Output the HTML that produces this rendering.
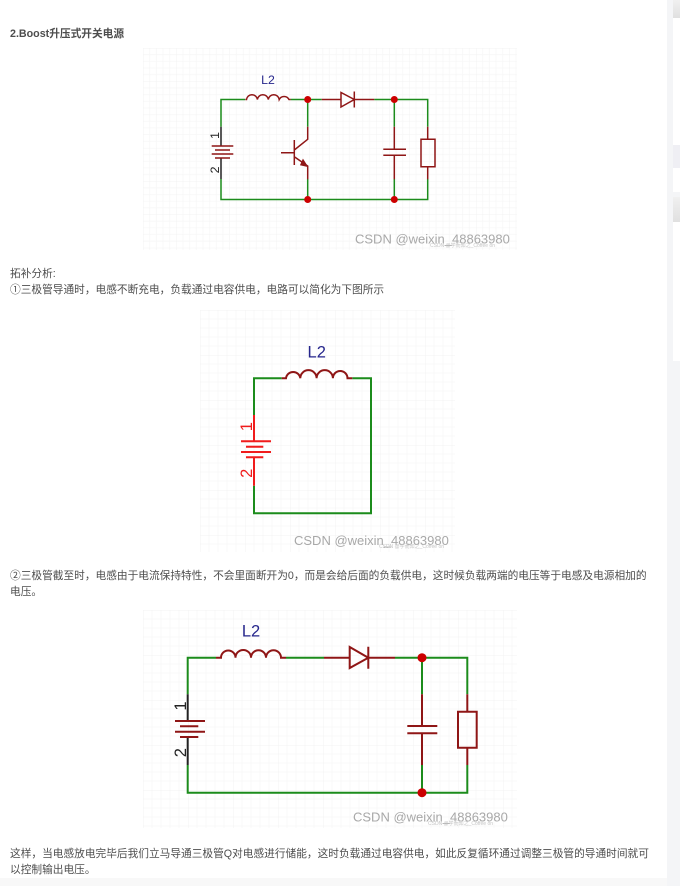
<!DOCTYPE html>
<html><head><meta charset="utf-8">
<style>
html,body{margin:0;padding:0;background:#fff;width:680px;height:886px;overflow:hidden}
svg{display:block}
.t{font-family:"Liberation Sans","Noto Sans CJK SC",sans-serif;font-size:10.7px;fill:#4d4d4d}
.wm{font-family:"Liberation Sans",sans-serif;font-size:13px;fill:#a8a8a8}
.sm{font-family:"Liberation Sans","Noto Sans CJK SC",sans-serif;font-size:5px;fill:#c4c4c4}
.lb{font-family:"Liberation Sans",sans-serif}
</style></head>
<body>
<svg width="680" height="886" viewBox="0 0 680 886" xmlns="http://www.w3.org/2000/svg">
<defs>
<pattern id="g1" x="143" y="48" width="33.3" height="33.3" patternUnits="userSpaceOnUse">
<path d="M0 0V33.3M6.67 0V33.3M13.33 0V33.3M20 0V33.3M26.67 0V33.3M0 0H33.3M0 6.67H33.3M0 13.33H33.3M0 20H33.3M0 26.67H33.3" stroke="#f7f7f7" stroke-width=".8" fill="none"/>
<path d="M0 0V33.3M0 0H33.3" stroke="#f1f1f1" stroke-width=".8" fill="none"/>
</pattern>
<pattern id="g2" x="200" y="310" width="45" height="45" patternUnits="userSpaceOnUse">
<path d="M0 0V45M9 0V45M18 0V45M27 0V45M36 0V45M0 0H45M0 9H45M0 18H45M0 27H45M0 36H45" stroke="#f7f7f7" stroke-width=".8" fill="none"/>
<path d="M0 0V45M0 0H45" stroke="#f1f1f1" stroke-width=".8" fill="none"/>
</pattern>
<pattern id="g3" x="143" y="610" width="45" height="45" patternUnits="userSpaceOnUse">
<path d="M0 0V45M9 0V45M18 0V45M27 0V45M36 0V45M0 0H45M0 9H45M0 18H45M0 27H45M0 36H45" stroke="#f7f7f7" stroke-width=".8" fill="none"/>
<path d="M0 0V45M0 0H45" stroke="#f1f1f1" stroke-width=".8" fill="none"/>
</pattern>
<filter id="b" x="-2%" y="-2%" width="104%" height="104%"><feGaussianBlur stdDeviation="0.35"/></filter>
<filter id="tb" x="-2%" y="-20%" width="104%" height="140%"><feGaussianBlur stdDeviation="0.25"/></filter>
<linearGradient id="hd" x1="0" y1="0" x2="0" y2="1"><stop offset="0" stop-color="#f0f0f0"/><stop offset="1" stop-color="#e0e0e0"/></linearGradient>
</defs>

<rect x="667" y="0" width="13" height="886" fill="#f4f5f7"/>
<rect x="673" y="0" width="7" height="361" fill="#fff"/>
<rect x="673" y="0" width="7" height="18" fill="url(#hd)"/>
<rect x="673" y="145" width="7" height="23" fill="#efeff4"/>
<rect x="673" y="192" width="7" height="5" fill="#f4f5f7"/>
<rect x="673" y="197" width="7" height="25" fill="url(#hd)"/>
<rect x="673" y="361" width="7" height="525" fill="#f4f5f7"/>
<rect x="0" y="878" width="667" height="8" fill="#f8f8f8"/>

<g filter="url(#tb)">
<text class="t" x="10" y="37" style="font-weight:bold;font-size:10.7px">2.Boost升压式开关电源</text>
<text class="t" x="10" y="277">拓补分析:</text>
<text class="t" x="10" y="293">①三极管导通时，电感不断充电，负载通过电容供电，电路可以简化为下图所示</text>
<text class="t" x="10" y="579">②三极管截至时，电感由于电流保持特性，不会里面断开为0，而是会给后面的负载供电，这时候负载两端的电压等于电感及电源相加的</text>
<text class="t" x="10" y="595">电压。</text>
<text class="t" x="10" y="857">这样，当电感放电完毕后我们立马导通三极管Q对电感进行储能，这时负载通过电容供电，如此反复循环通过调整三极管的导通时间就可</text>
<text class="t" x="10" y="873">以控制输出电压。</text>
</g>

<!-- Diagram 1 -->
<rect x="143" y="48" width="374" height="202" fill="url(#g1)"/>
<g filter="url(#b)" fill="none" stroke-width="1.5">
<path d="M245 99.5H221V126.7M221 179V199.5H427.7V179M290.7 99.5H321.7M374.3 99.5H427.7V126.7M307.7 99.5V126.7M307.7 179V199.5M394.3 99.5V126.7M394.3 179V199.5" stroke="#1c8c1c"/>
<path d="M245.3 99.5H246.5A5.5 5.5 0 0 1 257.4 99.5A5.5 5.5 0 0 1 268.3 99.5A5.5 5.5 0 0 1 279.2 99.5A5.5 5.5 0 0 1 289 99.5H290.7" stroke="#8f1414"/>
<path d="M321.7 99.5H341M354.3 99.5H374.3M341 92.5V107L354.3 99.5ZM354.3 91.5V107.5" stroke="#8f1414"/>
<path d="M221 126.7V146M221 158V179" stroke="#222"/>
<path d="M211.7 146H233.3M215 150H230M211.7 154H233.3M215 158H230" stroke="#8f1414"/>
<path d="M281 152.7H294.3M294.3 140V165M294.3 150L307.7 139.3V126.7M294.3 156.7L307.7 166V179.3" stroke="#8f1414"/>
<path d="M307.5 166.5L303 159.5L300.5 165Z" fill="#8f1414" stroke="#8f1414" stroke-width=".8"/>
<path d="M394.3 126.7V149.3M383.3 149.3H406M383.3 155.3H406M394.3 155.3V179.3" stroke="#8f1414"/>
<path d="M427.7 126.7V139.3M427.7 166.7V179.3M421 139.3H435V166.7H421Z" stroke="#8f1414"/>
<g fill="#cc0000" stroke="none">
<circle cx="307.7" cy="99.5" r="3.5"/><circle cx="394.3" cy="99.5" r="3.5"/><circle cx="307.7" cy="199.5" r="3.5"/><circle cx="394.3" cy="199.5" r="3.5"/>
</g>
<text class="lb" x="268" y="84" font-size="12.3" fill="#26268c" stroke="none" text-anchor="middle">L2</text>
<text class="lb" transform="translate(219,135.5) rotate(-90)" font-size="12.3" fill="#222" stroke="none" text-anchor="middle">1</text>
<text class="lb" transform="translate(219,170) rotate(-90)" font-size="12.3" fill="#222" stroke="none" text-anchor="middle">2</text>
</g>
<g filter="url(#tb)">
<text class="wm" x="355" y="243.5">CSDN @weixin_48863980</text>
<text class="sm" x="430" y="247">CSDN @学而知之_Coffee on</text>
</g>

<!-- Diagram 2 -->
<rect x="200" y="310" width="255" height="242" fill="url(#g2)"/>
<g filter="url(#b)" fill="none" stroke-width="2">
<path d="M281.7 378.3H254V415M254 485.7V513.3H371V378.3H352.3" stroke="#1c8c1c"/>
<path d="M281.7 378.3H286A7.2 7.2 0 0 1 300.3 378.3A7.2 7.2 0 0 1 316.6 378.3A7.2 7.2 0 0 1 332.9 378.3A7.2 7.2 0 0 1 347.5 378.3H352.3" stroke="#8f1414"/>
<path d="M254 415V441.3M254 457.3V485.7M241 441.3H271M246 446.7H263.3M241 452H271M246 457.3H263.3" stroke="#f01c1c"/>
<text class="lb" x="316.7" y="357.5" font-size="16.5" fill="#26268c" stroke="none" text-anchor="middle">L2</text>
<text class="lb" transform="translate(252,426.7) rotate(-90)" font-size="16.5" fill="#f01c1c" stroke="none" text-anchor="middle">1</text>
<text class="lb" transform="translate(252,473.3) rotate(-90)" font-size="16.5" fill="#f01c1c" stroke="none" text-anchor="middle">2</text>
</g>
<g filter="url(#tb)">
<text class="wm" x="294" y="545">CSDN @weixin_48863980</text>
<text class="sm" x="379" y="548">CSDN @学而知之_Coffee on</text>
</g>

<!-- Diagram 3 -->
<rect x="143" y="610" width="374" height="218" fill="url(#g3)"/>
<g filter="url(#b)" fill="none" stroke-width="2">
<path d="M216 657.7H187.7V694.3M187.7 765V792.7H467.3V765M286 657.7H324M395 657.7H467.3V694.3M422 657.7V694.3M422 765V792.7" stroke="#1c8c1c"/>
<path d="M216 657.7H221A7.2 7.2 0 0 1 235.5 657.7A7.2 7.2 0 0 1 251 657.7A7.2 7.2 0 0 1 266 657.7A7.2 7.2 0 0 1 281 657.7H286" stroke="#8f1414"/>
<path d="M324 657.7H349.7M368.3 657.7H395M349.7 647V668L368.3 657.7ZM368.3 646.7V668.7" stroke="#8f1414"/>
<path d="M187.7 694.3V721M187.7 737V765" stroke="#222"/>
<path d="M175 721H205M180 726.3H198.3M175 731.7H205M180 737H198.3" stroke="#8f1414"/>
<path d="M422 694.3V726M407.3 726H437.3M407.3 733.3H437.3M422 733.3V765" stroke="#8f1414"/>
<path d="M467.3 694.3V711.7M467.3 747.7V765M458 711.7H476.7V747.7H458Z" stroke="#8f1414"/>
<circle cx="422" cy="657.7" r="4.5" fill="#cc0000" stroke="none"/>
<circle cx="422" cy="792.7" r="4.5" fill="#cc0000" stroke="none"/>
<text class="lb" x="251" y="636.5" font-size="16.5" fill="#26268c" stroke="none" text-anchor="middle">L2</text>
<text class="lb" transform="translate(186,706) rotate(-90)" font-size="16.5" fill="#222" stroke="none" text-anchor="middle">1</text>
<text class="lb" transform="translate(186,752.7) rotate(-90)" font-size="16.5" fill="#222" stroke="none" text-anchor="middle">2</text>
</g>
<g filter="url(#tb)">
<text class="wm" x="353" y="821.5">CSDN @weixin_48863980</text>
<text class="sm" x="428" y="825">CSDN @学而知之_Coffee on</text>
</g>
</svg>
</body></html>
